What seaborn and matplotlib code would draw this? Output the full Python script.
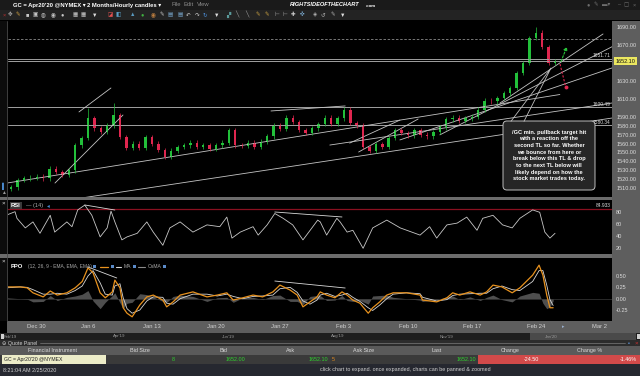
import numpy as np
import pandas as pd
import seaborn as sns
import matplotlib.pyplot as plt
from matplotlib.patches import Rectangle, FancyBboxPatch

# ---- values ----
# t = trading half-day index (Dec 30 = 2, Jan 6 = 10, ... Mar 2 = 90)
closes = [
    1511, 1519, 1521, 1522, 1523, 1521, 1532, 1528, 1525, 1530,
    1558, 1566, 1588, 1577, 1573, 1580, 1592, 1567, 1555, 1560,
    1555, 1567, 1560, 1553, 1545, 1552, 1556, 1558, 1561, 1556,
    1558, 1554, 1558, 1561, 1575, 1558, 1557, 1561, 1556, 1562,
    1568, 1581, 1576, 1589, 1584, 1575, 1572, 1577, 1582, 1589,
    1582, 1588, 1598, 1583, 1580, 1556, 1552, 1559, 1556, 1566,
    1575, 1572, 1569, 1575, 1570, 1568, 1573, 1578, 1587, 1589,
    1585, 1588, 1590, 1598, 1608, 1607, 1611, 1616, 1622, 1639,
    1650, 1678, 1684, 1668, 1650, 1652.1,
]
first_t = -2
first_open = 1509
spike_t = [10, 14, 50, 80]
spike_high = [1600, 1605, 1601, 1690]

h_levels = [1654.9, 1652.3, 1600.49, 1580.34]
dash_level = 1676.6
level_labels = ["1651.71", "1600.49", "1580.34"]
level_label_y = [1655.5, 1601.0, 1580.9]

# trendlines: (t0, p0) -> (t1, p1)
tl_t0 = [-2.66, 6.88, 4.84, 8.59, 38.6, 50.9, 52.3, 47.8, 58.75, 65.0, 74.4]
tl_p0 = [1515.8, 1496.8, 1515.8, 1595.3, 1596.4, 1560.5, 1550.5, 1558.3, 1564.0, 1569.7, 1605.3]
tl_t1 = [83.75, 91.9, 15.47, 13.59, 50.2, 58.75, 61.6, 91.9, 91.9, 91.9, 90.5]
tl_p1 = [1614.8, 1588.5, 1591.9, 1622.1, 1602.0, 1586.2, 1587.4, 1605.3, 1644.5, 1668.2, 1682.5]

price_ticks = [1690, 1670, 1630, 1610, 1590, 1580, 1570, 1560, 1550, 1540, 1530, 1520, 1510]
last_price = 1652.10

rsi_t = [-2.7, -1.4, -1.1, 0.2, 1.4, 2.5, 4.1, 4.8, 6.7, 7.5,
         8.4, 9.5, 10.6, 11.9, 13.0, 13.6, 14.2, 15.3, 16.1, 17.7,
         19.2, 20.2, 21.7, 22.8, 24.4, 26.4, 28.6, 30.6, 31.7, 32.5,
         33.8, 35.8, 36.6, 38.0, 39.2, 40.5, 42.0, 43.6, 45.0, 45.9,
         46.3, 47.3, 48.9, 49.4, 50.5, 51.4, 53.0, 54.5, 56.7, 58.8,
         61.9, 63.4, 64.5, 66.1, 67.7, 69.2, 70.8, 71.7, 73.3, 74.8,
         76.3, 77.5, 79.5, 80.6, 81.4, 82.2, 83.0]
rsi_val = [75.5, 81, 70, 54, 64, 45, 75, 47, 64, 56,
           84, 92, 75, 39, 54, 82, 64, 34, 39, 45,
           64, 47, 25, 54, 64, 47, 59, 56, 72, 37,
           47, 56, 42, 59, 78, 70, 59, 34, 54, 67,
           64, 42, 70, 64, 47, 50, 20, 54, 67, 54,
           42, 56, 37, 59, 62, 72, 50, 70, 75, 59,
           54, 70, 84, 80, 47, 37, 45]
rsi_level = 84.933
rsi_div_t = [[9.5, 14.2], [39.2, 49.7]]
rsi_div_v = [[92.2, 83.8], [80.5, 72.2]]

ppo_t = [-2.7, -0.6, 0.5, 1.4, 3.0, 4.1, 5.2, 6.7, 8.0, 9.1,
         10.0, 10.8, 11.9, 12.7, 13.8, 14.2, 15.0, 15.5, 16.1, 16.9,
         18.1, 19.2, 20.2, 21.7, 22.3, 23.3, 24.4, 26.4, 28.6, 30.2,
         31.7, 32.7, 34.2, 35.8, 37.3, 38.9, 40.0, 41.6, 42.7, 43.6,
         44.7, 45.8, 46.3, 47.3, 48.6, 49.7, 50.5, 51.4, 52.5, 53.8,
         54.5, 55.6, 56.7, 57.7, 59.8, 61.9, 62.3, 64.5, 66.1, 67.0,
         68.1, 69.7, 71.3, 72.3, 73.3, 74.7, 76.3, 77.5, 79.5, 80.5,
         81.1, 81.7, 82.2, 82.7]
ppo_val = [0.26, 0.26, 0.24, 0.13, 0.04, 0.17, 0.08, 0.13, 0.24, 0.38,
           0.68, 0.57, 0.13, 0.02, 0.15, 0.41, 0.24, -0.20, -0.32, -0.40,
           -0.14, 0.04, 0.08, -0.03, -0.18, -0.07, 0.08, 0.15, 0.04, 0.08,
           0.13, -0.03, 0.02, 0.08, 0.04, 0.15, 0.30, 0.19, 0.08, -0.18,
           -0.07, 0.04, 0.15, 0.08, 0.02, 0.15, 0.08, -0.03, -0.10, -0.32,
           -0.20, -0.07, 0.08, 0.13, 0.13, 0.08, -0.03, -0.07, 0.02, 0.13,
           0.08, 0.15, 0.08, 0.15, 0.30, 0.26, 0.13, 0.24, 0.52, 0.74,
           0.52, 0.08, -0.20, -0.20]
ppo_ma = [0.24, 0.26, 0.25, 0.20, 0.10, 0.10, 0.12, 0.10, 0.18, 0.28,
          0.50, 0.62, 0.35, 0.10, 0.08, 0.28, 0.33, 0.02, -0.22, -0.32,
          -0.25, -0.05, 0.04, 0.03, -0.10, -0.12, 0.00, 0.10, 0.10, 0.06,
          0.10, 0.05, 0.00, 0.05, 0.06, 0.08, 0.22, 0.25, 0.14, -0.05,
          -0.12, -0.03, 0.08, 0.12, 0.05, 0.08, 0.12, 0.03, -0.06, -0.20,
          -0.26, -0.14, 0.00, 0.10, 0.13, 0.11, 0.03, -0.05, -0.02, 0.07,
          0.10, 0.11, 0.12, 0.12, 0.22, 0.28, 0.20, 0.18, 0.38, 0.62,
          0.62, 0.30, -0.02, -0.15]
ppo_div_t = [[10.0, 14.5], [39.2, 50.2]]
ppo_div_v = [[0.70, 0.457], [0.39, 0.236]]

date_ticks = [2, 10, 20, 30, 40, 50, 60, 70, 80, 90]
date_labels = ["Dec 30", "Jan 6", "Jan 13", "Jan 20", "Jan 27",
               "Feb 3", "Feb 10", "Feb 17", "Feb 24", "Mar 2"]
nav_labels = ["Feb'19", "Apr'19", "Jun'19", "Aug'19", "Nov'19", "Jan'20"]

quote_cols = ["Financial Instrument", "Bid Size", "Bid", "Ask", "Ask Size",
              "Last", "Change", "Change %"]
note = ("/GC min. pullback target hit\nwith a reaction off the\n"
        "second TL so far. Whether\nwe bounce from here or\n"
        "break below this TL & drop\nto the next TL below will\n"
        "likely depend on how the\nstock market trades today.")

# ---- style ----
sns.set_style("dark", {"axes.facecolor": "black", "figure.facecolor": "black"})
plt.rcParams["font.family"] = ["Liberation Sans", "DejaVu Sans"]

W, H = 640, 376
fig = plt.figure(figsize=(6.4, 3.76), dpi=100, facecolor="black")


def pane(x0, y0, x1, y1, **kw):
    return fig.add_axes([x0 / W, 1 - y1 / H, (x1 - x0) / W, (y1 - y0) / H], **kw)


def pixel_axes(z):
    a = pane(0, 0, W, H, zorder=z)
    a.set_xlim(0, W)
    a.set_ylim(H, 0)
    a.axis("off")
    return a


bg = pixel_axes(-10)
for x, y, w, h, c in [
    (0, 0, 640, 10, "#1a1a1a"), (0, 10, 640, 10, "#232323"),
    (0, 21, 7, 300, "#0c0c0c"), (612, 21, 28, 300, "#5e5e5e"),
    (0, 197, 612, 3, "#6c6c6c"), (0, 254, 612, 4, "#6c6c6c"),
    (7, 321, 633, 12, "#5e5e5e"), (0, 333, 640, 7, "#1e1e1e"),
    (530, 333, 106, 7, "#4a4a4a"), (0, 340, 640, 6, "#2c2c2c"),
    (0, 346, 640, 9, "#5a5a5a"), (0, 355, 640, 9, "#3a3a3a"),
    (2, 355, 104, 9, "#ececc8"), (478, 355, 162, 9, "#d24a4a"),
    (0, 364, 640, 12, "#262830"),
]:
    bg.add_patch(Rectangle((x, y), w, h, color=c, lw=0))
bg.plot([7, 7], [21, 321], color="#4a4a4a", lw=0.6)

# ---- main price pane ----
ax = pane(8, 21, 612, 197)
t = np.arange(first_t, first_t + len(closes))
df = pd.DataFrame({"t": t, "open": [first_open] + closes[:-1], "close": closes})
df["top"] = df[["open", "close"]].max(axis=1)
df["bot"] = df[["open", "close"]].min(axis=1)
df["high"] = df["top"] + 2.5
df["low"] = df["bot"] - 2.5
for st, sh in zip(spike_t, spike_high):
    df.loc[df.t == st, "high"] = sh
col = np.where(df.close >= df.open, "#22c03a", "#e0264f")

for lv in h_levels:
    ax.axhline(lv, color="#a0a0a0", lw=0.7)
ax.axhline(dash_level, color="#8a8a8a", lw=0.6, ls=(0, (3, 2)))
for a0, b0, a1, b1 in zip(tl_t0, tl_p0, tl_t1, tl_p1):
    ax.plot([a0, a1], [b0, b1], color="#c4c4c4", lw=0.6)

ax.vlines(df.t, df.low, df.high, colors=col, lw=0.5)
ax.bar(df.t, np.maximum(df.top - df.bot, 0.8), bottom=df.bot, width=0.38,
       color=col, lw=0)

ax.set_xlim(-2.5, 91.9)
ax.set_ylim(1500.2, 1697)
ax.set_xticks([])
ax.yaxis.tick_right()
ax.set_yticks(price_ticks)
ax.set_yticklabels([f"{p:.2f}" for p in price_ticks])
ax.tick_params(axis="y", length=0, pad=3, labelsize=4, labelcolor="#dcdcdc")
ax.annotate(f"{last_price:.2f}", xy=(1, last_price), xycoords=("axes fraction", "data"),
            xytext=(2.5, 0), textcoords="offset points", va="center", ha="left",
            fontsize=4, color="#111",
            bbox=dict(boxstyle="square,pad=0.25", fc="#ebe760", ec="none"))
tr = ax.get_yaxis_transform()
for lab, ly in zip(level_labels, level_label_y):
    ax.text(0.997, ly, lab, transform=tr, ha="right", va="bottom", fontsize=3.5,
            color="#dddddd")

# ---- RSI pane ----
rx = pane(8, 200, 612, 254)
rx.axhline(rsi_level, color="#8a1020", lw=0.9)
sns.lineplot(x=rsi_t, y=rsi_val, ax=rx, color="#c8c8c8", lw=0.6)
for xs, ys in zip(rsi_div_t, rsi_div_v):
    rx.plot(xs, ys, color="#d8d8d8", lw=0.6)
rx.set_xlim(-2.5, 91.9)
rx.set_ylim(10.5, 100.5)
rx.set_xticks([])
rx.yaxis.tick_right()
rx.set_yticks([20, 40, 60, 80])
rx.tick_params(axis="y", length=0, pad=3, labelsize=4, labelcolor="#dcdcdc")
rx.set_xlabel("")
rx.text(0.997, rsi_level + 1.5, f"{rsi_level:.3f}", transform=rx.get_yaxis_transform(),
        ha="right", va="bottom", fontsize=3.5, color="#dddddd")

# ---- PPO pane ----
px = pane(8, 258, 612, 321)
osma = np.array(ppo_val) - np.array(ppo_ma)
px.fill_between(ppo_t, 0, osma, color="#4e4e4e", lw=0)
px.axhline(0, color="#3a3a3a", lw=0.5)
sns.lineplot(x=ppo_t, y=ppo_ma, ax=px, color="#d6d6d6", lw=0.6)
sns.lineplot(x=ppo_t, y=ppo_val, ax=px, color="#e8921e", lw=0.9)
for xs, ys in zip(ppo_div_t, ppo_div_v):
    px.plot(xs, ys, color="#d8d8d8", lw=0.6)
px.set_xlim(-2.5, 91.9)
px.set_ylim(-0.492, 0.898)
px.yaxis.tick_right()
px.set_yticks([0.5, 0.25, 0.0, -0.25])
px.set_yticklabels(["0.50", "0.25", "0.00", "-0.25"])
px.set_xticks(date_ticks)
px.set_xticklabels(date_labels)
px.tick_params(axis="y", length=0, pad=3, labelsize=4, labelcolor="#dcdcdc")
px.tick_params(axis="x", length=0, pad=2.2, labelsize=4.2, labelcolor="#d2d2d2")
px.set_xlabel("")

for a in (ax, rx, px):
    a.set_facecolor("black")
    a.grid(False)
    for s in a.spines.values():
        s.set_visible(False)

# ---- overlay: chrome text, callout, arrows ----
ov = pixel_axes(5)

ov.text(13, 5, "GC = Apr20'20 @NYMEX \u25be", fontsize=4.2, fontweight="bold",
        color="white", va="center")
ov.text(87, 5, "2 Months/Hourly candles \u25be", fontsize=4.2, fontweight="bold",
        color="white", va="center")
for xx, s in [(171, "File"), (183, "Edit"), (197, "View")]:
    ov.text(xx, 5, s, fontsize=4.2, color="#8a8a8a", va="center")
ov.text(290, 5, "RIGHTSIDEOFTHECHART", fontsize=4.1, fontweight="heavy",
        fontstyle="italic", color="white", va="center")
ov.text(366, 5.6, ".com", fontsize=3.2, fontweight="bold", color="white", va="center")
for xx, s in [(588, "\u25cf"), (596, "\u270e"), (606, "\u25ac\u25be"), (619, "\u2013"),
              (626, "\u25a2"), (634, "\u00d7")]:
    ov.text(xx, 5, s, fontsize=4, color="#6e6e6e", va="center", ha="center")

tools = ["\u00d7", "\u2725", "\u270e", "\u25a0", "\u25a3", "\u25cd", "\u25c9", "\u25cf",
         "\u25a6", "\u25a6", "\u25bc", "\u25ea", "\u25e7", "\u25b2", "\u25cf", "\u25c9",
         "\u270e", "\u25a4", "\u25a4", "\u21b6", "\u21b7", "\u21bb", "\u25bc", "\u259e",
         "\u2572", "\u2572", "\u270e", "\u270e", "\u22a2", "\u22a2", "\u271a", "\u271c",
         "\u25c8", "\u21ba", "\u270e", "\u25bc"]
tool_x = [4, 10, 18, 27, 35, 43, 53, 62, 75, 83, 95, 110, 118, 133, 142, 153, 162, 170,
          180, 188, 197, 205, 217, 228, 237, 247, 258, 267, 277, 285, 293, 302, 315, 323,
          333, 343]
tool_c = ["#c03030", "#b0b0b0", "#d0a040", "#c8c8c8", "#c8c8c8", "#c8c8c8", "#c8c8c8",
          "#c8c8c8", "#c8c8c8", "#c8c8c8", "#e0e0e0", "#e05050", "#5aa0c8", "#5a9ac0",
          "#40b040", "#c08040", "#c8c8c8", "#7aaad0", "#7aaad0", "#c8c8c8", "#c8c8c8",
          "#4a8ad0", "#e0e0e0", "#5a9a9a", "#b0b0b0", "#b0b0b0", "#c8a040", "#c8a040",
          "#b0b0b0", "#b0b0b0", "#d0d0d0", "#7aaad0", "#b0b0b0", "#b0b0b0", "#b0b0b0",
          "#e0e0e0"]
for xx, g, c in zip(tool_x, tools, tool_c):
    ov.text(xx, 15, g, fontsize=4, color=c, ha="center", va="center")

# left-edge markers
ov.text(3.5, 186, "\u258c", fontsize=4, color="#4a8ad0", ha="center", va="center")
ov.text(3.5, 193, "\u25b2", fontsize=3.5, color="#9a9a9a", ha="center", va="center")
ov.text(3.5, 203.5, "\u00d7", fontsize=4.5, color="#e0e0e0", ha="center", va="center")
ov.text(3.5, 261.5, "\u00d7", fontsize=4.5, color="#e0e0e0", ha="center", va="center")

# pane headers
ov.text(11, 205.5, "RSI", fontsize=4.2, fontweight="bold", color="white", va="center",
        bbox=dict(boxstyle="square,pad=0.2", fc="#3a3a3a", ec="none"))
ov.text(26, 205.5, "\u2014 (14)", fontsize=4, color="#aaaaaa", va="center")
ov.text(47, 205.5, "\u25c2", fontsize=4, color="#4a8ad0", va="center")
ov.text(11, 266.5, "PPO", fontsize=4.2, fontweight="bold", color="white", va="center")
ov.text(28, 266.5, "(12, 26, 9 - EMA, EMA, EMA)", fontsize=3.5, color="#aaaaaa",
        va="center")
ov.plot([100, 108], [266.5, 266.5], color="#e8921e", lw=0.9)
ov.plot([116, 121], [266.5, 266.5], color="#d6d6d6", lw=0.8)
ov.text(124, 266.5, "MA", fontsize=3.6, color="#aaaaaa", va="center")
ov.plot([138, 145], [266.5, 266.5], color="#8a8a8a", lw=0.8)
ov.text(148, 266.5, "OsMA", fontsize=3.6, color="#aaaaaa", va="center")
for xx in [92.5, 110.5, 133, 163]:
    ov.add_patch(Rectangle((xx, 264.8), 3.2, 3.2, color="#5a8ac8", lw=0))

# callout
ov.add_patch(FancyBboxPatch((503, 121), 92, 69, boxstyle="round,pad=0,rounding_size=4",
                            fc="#262626", ec="#bdbdbd", lw=0.7))
ov.plot([511, 551, 524], [121.3, 68, 121.3], color="#bdbdbd", lw=0.6)
ov.text(549, 155.5, note, fontsize=4.1, fontweight="bold", color="white",
        ha="center", va="center", linespacing=1.42)

ov.annotate("", xy=(568, 44), xytext=(560, 64),
            arrowprops=dict(arrowstyle="-|>", color="#29c33a", lw=0.8,
                            linestyle=(0, (2, 1.5)), mutation_scale=5))
ov.plot([560, 565.5], [64, 86], color="#e0264f", lw=0.8, ls=(0, (2, 1.5)))
ov.plot([565.5], [86.5], marker="o", ms=1.8, color="#e0264f")

# date strip marker and navigator
ov.text(563, 327, "\u25b8", fontsize=3.5, color="#9ab0d0", ha="center", va="center")
for xx, s in zip([4, 113, 222, 331, 440, 545], nav_labels):
    ov.text(xx, 336.5, s, fontsize=3.2, color="#9a9a9a", va="center")
for xx in [1, 637]:
    ov.add_patch(Rectangle((xx, 334), 2.5, 5, color="#d0d0d0", lw=0))

# quote panel
ov.text(2, 343, "\u2296 Quote Panel", fontsize=3.8, color="#cfcfcf", va="center")
ov.plot([40, 625], [343, 343], color="#7a7a7a", lw=0.5)
ov.text(629, 343, "\u25aa", fontsize=4, color="#5a8ac8", ha="center", va="center")
ov.text(636, 343, "\u00d7", fontsize=4.5, color="#d03030", ha="center", va="center")
for xx, s in zip([53, 140, 223, 291, 364, 437, 510, 590], quote_cols):
    ov.text(xx, 350.5, s, fontsize=3.9, color="#dadada", ha="center", va="center")
ov.text(3.5, 359.5, "GC = Apr20'20 @NYMEX", fontsize=3.7, color="#202020", va="center")
for xx, s in [(175, "8"), (245, "1652.00"), (328, "1652.10"), (476, "1652.10")]:
    ov.text(xx, 359.5, s, fontsize=3.9, color="#2ed42e", ha="right", va="center")
ov.text(332, 359.5, "5", fontsize=3.9, color="#e08a20", va="center")
ov.text(531, 359.5, "-24.50", fontsize=3.9, color="white", ha="center", va="center")
ov.text(637, 359.5, "-1.46%", fontsize=3.9, color="white", ha="right", va="center")

# status bar
ov.text(3, 370, "8:21:04 AM 2/25/2020", fontsize=3.9, color="#d0d0d0", va="center")
ov.text(405, 370, "click chart to expand. once expanded, charts can be panned & zoomed",
        fontsize=3.9, color="#d0d0d0", ha="center", va="center")

fig.savefig("out.png", dpi=100, facecolor=fig.get_facecolor())
